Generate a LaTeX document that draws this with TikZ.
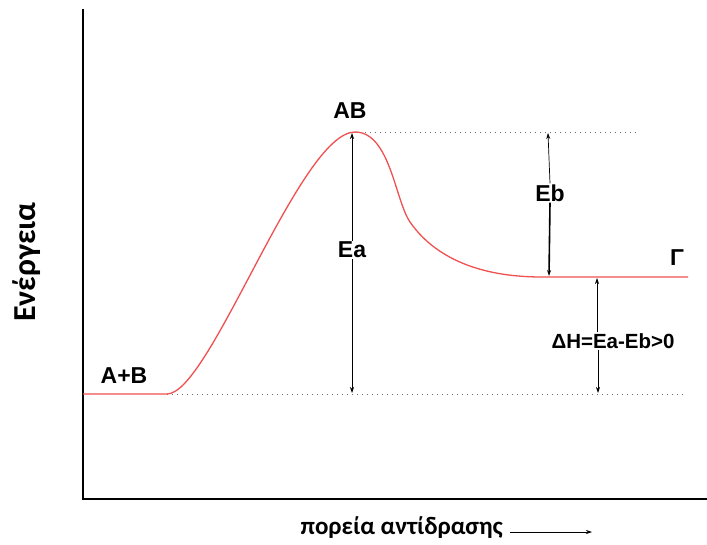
\documentclass[tikz,border=0pt]{standalone}
\usepackage{fontspec}
\setmainfont{Liberation Sans}
\newfontfamily\calfont{Carlito}
\usetikzlibrary{arrows.meta, positioning, calc}
\definecolor{cCurve}{RGB}{240,80,80}
\definecolor{cDot}{RGB}{110,110,110}
\tikzset{
	axis/.style   ={line width=2.6pt, black},
	curve/.style  ={line width=1.3pt, cCurve},
	guide/.style  ={cDot, line width=0.9pt, dash pattern=on 1pt off 4pt},
	dimarr/.style ={{Stealth[length=6pt,width=4pt]}-{Stealth[length=6pt,width=4pt]}, line width=0.7pt},
	halfarr/.style={-{Stealth[length=6pt,width=4pt]}, line width=0.7pt},
	lbl/.style    ={font=\bfseries\fontsize{23}{26}\selectfont, fill=white, inner sep=1pt},
	axlbl/.style  ={font=\calfont\bfseries\fontsize{25}{28}\selectfont},
}

\begin{document}
\begin{tikzpicture}[x=1pt, y=-1pt]
			\useasboundingbox (0,0) rectangle (707,544);
			% axes
			\coordinate (o) at (83,499);
			\draw[axis] (83,9) -- (o) -- (707,499);
			\node[axlbl, rotate=90, font=\calfont\bfseries\fontsize{32}{34}\selectfont] (energy) at (27,262) {Ενέργεια};
			\node[axlbl, anchor=west] (path) at (297,528) {πορεία αντίδρασης};
			\coordinate (pathend) at (592,532);
			\draw[halfarr] (path.east |- pathend) ++(4,0) -- (pathend);
			% levels
			\coordinate (r0) at (83,394);
			\coordinate (r1) at (167,394);
			\coordinate (ts) at (355,132);
			\coordinate (p0) at (542,277);
			\coordinate (p1) at (688,277);
			\draw[guide] (ts) -- (636,132);
			\draw[guide] (r1) -- (686,394);
			% reaction curve
			\draw[curve] (r0) -- (r1) .. controls (210,394) and (300,132) .. (ts)
				.. controls (390,132) and (395,200) .. (410,222)
				.. controls (428,248) and (465,277) .. (p0) -- (p1);
			% labels
			\node[lbl, fill=none] (ab) at (350,111) {AB};
			\node[lbl, fill=none] (reac) at (124,376) {A+B};
			\node[lbl, fill=none] (gam) at (677,258) {Γ};
			% energies
			\draw[dimarr] (352,133) -- (352,393);
			\node[lbl] (ea) at (352,250) {Ea};
			\node[lbl] (eb) at (550,193) {Eb};
			\draw[halfarr] (eb.north) -- (548,133);
			\draw[halfarr, line width=1.6pt] (eb.south) -- (549,276);
			\node[lbl, font=\bfseries\fontsize{20.5}{23}\selectfont] (dh) at (613,341) {ΔH=Ea-Eb>0};
			\draw[halfarr] (dh.north -| 597,0) -- (597,278);
			\draw[halfarr] (dh.south -| 598,0) -- (598,393);
		\end{tikzpicture}
\end{document}
